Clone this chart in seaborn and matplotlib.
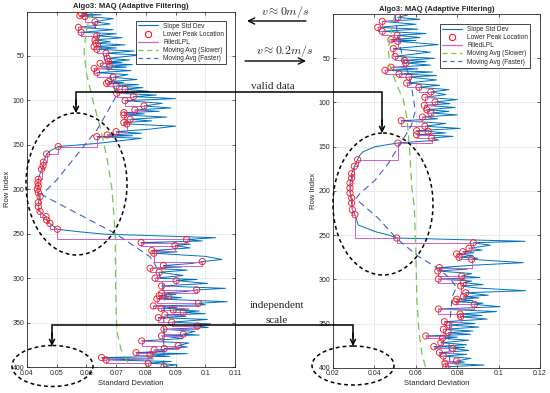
import matplotlib
matplotlib.use("Agg")
import matplotlib.pyplot as plt
import seaborn as sns
import pandas as pd
from matplotlib.patches import Ellipse
from matplotlib.lines import Line2D

# ---------------- data ----------------
# Left panel (v ~ 0 m/s)
L_peak_rows = [2.8, 4.7, 5.6, 11.5, 17.8, 23.4, 27.2, 32.0, 35.8, 39.6, 42.5, 47.0, 52.7, 56.4, 58.3, 61.3,
               64.0, 68.8, 74.0, 79.0, 80.8, 83.8, 87.5, 92.0, 95.8, 100.3, 106.3, 110.8, 113.8, 116.4, 121.3,
               125.0, 126.5, 135.2, 138.9, 140.8, 152.0, 160.3, 169.6, 173.5, 177.5, 188.8, 192.5, 196.3, 200.0,
               203.8, 208.3, 215.0, 219.6, 225.0, 230.8, 234.6, 238.3, 245.0, 256.5, 260.0, 263.4, 269.0, 272.0,
               281.4, 285.9, 288.9, 293.4, 300.1, 302.8, 308.8, 313.3, 317.0, 319.7, 320.8, 323.4, 328.3, 331.3,
               333.9, 335.8, 338.4, 341.4, 344.4, 349.6, 353.8, 357.5, 363.1, 365.0, 370.6, 375.9, 379.3, 380.8,
               383.8, 386.4, 389.4, 392.0, 395.7, 399.5]
L_peak_vals = [0.0584, 0.0578, 0.0595, 0.0629, 0.0573, 0.0582, 0.0635, 0.0629, 0.0632, 0.0626, 0.0635, 0.0666,
               0.0670, 0.0674, 0.0646, 0.0677, 0.0626, 0.0635, 0.0690, 0.0674, 0.0668, 0.0700, 0.0730, 0.0702,
               0.0758, 0.0730, 0.0794, 0.0763, 0.0726, 0.0726, 0.0747, 0.0726, 0.0736, 0.0700, 0.0670, 0.0635,
               0.0505, 0.0466, 0.0455, 0.0454, 0.0449, 0.0438, 0.0437, 0.0438, 0.0435, 0.0438, 0.0444, 0.0438,
               0.0438, 0.0444, 0.0464, 0.0466, 0.0477, 0.0502, 0.0937, 0.0784, 0.0898, 0.0820, 0.0827, 0.0990,
               0.0859, 0.0814, 0.0845, 0.0831, 0.0902, 0.0853, 0.0971, 0.0853, 0.0845, 0.0876, 0.0837, 0.0977,
               0.0825, 0.0851, 0.0892, 0.0926, 0.0864, 0.0842, 0.0887, 0.0974, 0.0861, 0.0926, 0.0853, 0.0786,
               0.0909, 0.0862, 0.0828, 0.0767, 0.0814, 0.0651, 0.0666, 0.0808, 0.0861]
L_spike_rows = [1.0, 3.7, 8.0, 14.0, 20.5, 25.0, 29.5, 34.0, 37.5, 41.0, 44.5, 49.0, 54.5, 57.3, 59.8, 62.6,
                66.5, 71.0, 76.5, 80.0, 82.3, 85.7, 89.8, 94.0, 98.0, 103.3, 108.5, 112.3, 115.1, 118.8, 123.1,
                129.0, 132.5, 137.0, 139.8, 142.7, 148.3, 150.5, 156.0, 248.0, 250.5, 254.5, 258.2, 261.8, 266.0,
                270.5, 275.5, 279.0, 283.5, 287.5, 291.0, 297.0, 301.5, 306.0, 311.5, 315.0, 318.3, 322.0, 326.5,
                330.0, 332.6, 334.8, 337.0, 340.0, 343.0, 346.5, 351.5, 355.5, 360.0, 364.0, 368.0, 373.0, 377.5,
                380.0, 382.3, 385.0, 388.0, 390.8, 393.8, 397.5]
L_spike_vals = [0.0600, 0.0650, 0.0690, 0.0680, 0.0690, 0.0700, 0.0720, 0.0680, 0.0730, 0.0700, 0.0760, 0.0780,
                0.0745, 0.0720, 0.0755, 0.0735, 0.0750, 0.0740, 0.0770, 0.0725, 0.0775, 0.0790, 0.0810, 0.0835,
                0.0900, 0.0855, 0.0885, 0.0845, 0.0795, 0.0870, 0.0820, 0.0900, 0.0810, 0.0785, 0.0755, 0.0785,
                0.0640, 0.0560, 0.0482, 0.0580, 0.0660, 0.1035, 0.0990, 0.0950, 0.0949, 0.0905, 0.1000, 0.1056,
                0.0955, 0.0920, 0.0939, 0.0925, 0.0973, 0.1007, 0.1068, 0.0935, 0.0900, 0.0920, 0.1074, 0.1000,
                0.0905, 0.0945, 0.0980, 0.1000, 0.0935, 0.1007, 0.1018, 0.1010, 0.0965, 0.0980, 0.0925, 0.0945,
                0.0940, 0.0905, 0.0865, 0.0940, 0.0880, 0.0825, 0.0885, 0.0905]
L_slow_rows = [0, 10, 25, 45, 70, 100, 135, 170, 200, 250, 300, 340, 360, 380, 400]
L_slow_vals = [0.0620, 0.0608, 0.0598, 0.0592, 0.0600, 0.0622, 0.0650, 0.0672, 0.0686, 0.0697, 0.0698, 0.0700,
               0.0703, 0.0716, 0.0748]
L_fast_rows = [0, 30, 60, 94, 114.5, 133.3, 152, 170.8, 189.5, 200.8, 206, 214, 249.5, 276, 290, 305, 320, 350, 400]
L_fast_vals = [0.0615, 0.0640, 0.0668, 0.0702, 0.0668, 0.0635, 0.0590, 0.0545, 0.0500, 0.0466, 0.0450, 0.0494,
               0.0696, 0.0814, 0.0840, 0.0855, 0.0865, 0.0860, 0.0860]

# Right panel (v ~ 0.2 m/s)
R_peak_rows = [3.7, 8.2, 15.0, 19.5, 24.0, 28.9, 30.8, 39.1, 47.8, 52.3, 55.3, 60.2, 63.6, 67.8, 71.2, 78.0,
               82.8, 88.1, 94.1, 99.4, 103.2, 108.1, 111.9, 116.4, 120.6, 126.9, 131.9, 132.6, 136.4, 140.2, 145.8,
               164.7, 172.2, 180.5, 185.4, 191.1, 196.7, 202.4, 208.0, 213.7, 221.2, 226.9, 253.3, 258.6, 264.9,
               268.8, 271.4, 275.1, 277.4, 286.8, 290.6, 296.3, 299.7, 303.8, 307.6, 315.2, 319.7, 322.6, 325.3,
               328.3, 333.6, 339.3, 342.3, 348.0, 351.7, 356.6, 360.4, 364.1, 366.7, 371.7, 376.2, 378.1, 383.0,
               386.8, 392.4, 395.0, 399.0]
R_peak_vals = [0.0513, 0.0438, 0.0416, 0.0438, 0.0510, 0.0480, 0.0513, 0.0491, 0.0500, 0.0545, 0.0551, 0.0480,
               0.0451, 0.0519, 0.0567, 0.0556, 0.0615, 0.0673, 0.0644, 0.0693, 0.0641, 0.0653, 0.0673, 0.0632,
               0.0530, 0.0644, 0.0604, 0.0660, 0.0604, 0.0677, 0.0513, 0.0319, 0.0303, 0.0290, 0.0290, 0.0282,
               0.0282, 0.0282, 0.0290, 0.0290, 0.0293, 0.0306, 0.0508, 0.0878, 0.0857, 0.0827, 0.0797, 0.0809,
               0.0870, 0.0714, 0.0706, 0.0822, 0.0709, 0.0830, 0.0817, 0.0841, 0.0830, 0.0797, 0.0792, 0.0883,
               0.0709, 0.0814, 0.0817, 0.0738, 0.0761, 0.0733, 0.0757, 0.0648, 0.0729, 0.0721, 0.0687, 0.0778,
               0.0714, 0.0733, 0.0797, 0.0741, 0.0745]
R_spike_rows = [1.0, 6.0, 11.5, 17.0, 22.0, 26.5, 29.8, 34.5, 43.0, 50.0, 53.8, 57.7, 62.0, 65.5, 69.5, 74.5,
                80.5, 85.5, 91.0, 96.7, 101.3, 105.6, 110.0, 114.0, 118.5, 123.7, 129.3, 134.5, 138.3, 142.5,
                150.0, 155.6, 160.0, 238.6, 246.0, 250.0, 257.0, 261.5, 267.0, 270.0, 273.0, 276.0, 281.2, 284.0,
                288.5, 293.5, 298.0, 302.0, 306.0, 310.0, 312.9, 318.0, 321.0, 324.0, 327.0, 331.0, 336.5, 341.0,
                345.0, 350.0, 354.0, 358.5, 362.3, 365.4, 369.0, 374.0, 377.0, 380.5, 385.0, 389.5, 393.7, 397.0]
R_spike_vals = [0.0560, 0.0620, 0.0600, 0.0610, 0.0650, 0.0620, 0.0600, 0.0709, 0.0670, 0.0690, 0.0650, 0.0670,
                0.0610, 0.0680, 0.0700, 0.0700, 0.0715, 0.0760, 0.0745, 0.0800, 0.0765, 0.0790, 0.0760, 0.0800,
                0.0705, 0.0745, 0.0814, 0.0745, 0.0780, 0.0710, 0.0403, 0.0346, 0.0328, 0.0322, 0.0403, 0.0470,
                0.1128, 0.0960, 0.0920, 0.0880, 0.0875, 0.0900, 0.1119, 0.0880, 0.0850, 0.0870, 0.0910, 0.0870,
                0.0925, 0.0905, 0.1131, 0.0950, 0.0905, 0.0875, 0.0925, 0.1007, 0.0990, 0.0920, 0.0945, 0.0885,
                0.0905, 0.0875, 0.0865, 0.0800, 0.0855, 0.0845, 0.0835, 0.0855, 0.0845, 0.0865, 0.0835, 0.0930]
R_slow_rows = [0, 15, 40, 59, 80, 97, 116, 135, 160, 195, 218, 267, 323, 361, 385, 400]
R_slow_vals = [0.0500, 0.0485, 0.0467, 0.0475, 0.0508, 0.0540, 0.0556, 0.0564, 0.0572, 0.0580, 0.0593, 0.0600,
               0.0605, 0.0616, 0.0630, 0.0648]
R_fast_rows = [0, 20, 53, 72, 102, 110, 125, 135, 150, 169, 188, 203, 209, 231, 254, 274, 288, 299, 309, 320,
               340, 370, 400]
R_fast_vals = [0.0500, 0.0510, 0.0540, 0.0572, 0.0593, 0.0597, 0.0580, 0.0556, 0.0516, 0.0467, 0.0403, 0.0330,
               0.0310, 0.0419, 0.0508, 0.0612, 0.0709, 0.0765, 0.0797, 0.0775, 0.0768, 0.0760, 0.0765]

y_ticks = [50, 100, 150, 200, 250, 300, 350, 400]
L_xticks = [0.04, 0.05, 0.06, 0.07, 0.08, 0.09, 0.10, 0.11]
L_xticklabels = ["0.04", "0.05", "0.06", "0.07", "0.08", "0.09", "0.1", "0.11"]
R_xticks = [0.02, 0.04, 0.06, 0.08, 0.10, 0.12]
R_xticklabels = ["0.02", "0.04", "0.06", "0.08", "0.1", "0.12"]
title = "Algo3: MAQ (Adaptive Filtering)"
series_names = ["Slope Std Dev", "Lower Peak Location", "FilledLPL", "Moving Avg (Slower)", "Moving Avg (Faster)"]

# ---------------- style ----------------
sns.set_theme(style="whitegrid")
plt.rcParams["font.family"] = ["Liberation Sans", "DejaVu Sans"]
plt.rcParams["mathtext.fontset"] = "cm"

C_BLUE = "#0072BD"
C_RED = "#FF1A1A"
C_MAG = "#CC66CC"
C_GREEN = "#70C84A"
C_DBLUE = "#4060C8"
DASH_G = (0, (6, 4))
DASH_B = (0, (6, 4))

fig = plt.figure(figsize=(5.5, 3.93), dpi=100)
fig.patch.set_facecolor("white")
axL = fig.add_axes([27 / 550, 1 - 367 / 393, 208 / 550, 355.5 / 393])
axR = fig.add_axes([333 / 550, 1 - 367.7 / 393, 207 / 550, 353.6 / 393])


def draw(ax, pr, pv, sr, sv, slr, slv, fr, fv, xlim, xt, xtl, anchor):
    merged = sorted(zip(pr + sr, pv + sv))
    df = pd.DataFrame(merged, columns=["row", "val"])
    sns.lineplot(data=df, x="val", y="row", sort=False, estimator=None, color=C_BLUE, lw=0.7, ax=ax,
                 zorder=2)
    sns.scatterplot(x=pv, y=pr, ax=ax, marker="o", s=20, facecolor="none", edgecolor=C_RED, linewidth=0.65,
                    zorder=4)
    fl = pd.DataFrame({"row": pr + [400], "val": pv + [pv[-1]]})
    sns.lineplot(data=fl, x="val", y="row", sort=False, estimator=None, drawstyle="steps-pre", color=C_MAG,
                 lw=0.75, ax=ax, zorder=3)
    sns.lineplot(x=slv, y=slr, sort=False, estimator=None, color=C_GREEN, lw=0.9, linestyle=DASH_G, ax=ax,
                 zorder=5)
    sns.lineplot(x=fv, y=fr, sort=False, estimator=None, color=C_DBLUE, lw=0.8, linestyle=DASH_B, ax=ax,
                 zorder=5)

    ax.set_xlim(*xlim)
    ax.set_ylim(400, 0)
    ax.set_xticks(xt)
    ax.set_xticklabels(xtl)
    ax.set_yticks(y_ticks)
    ax.set_yticklabels([str(t) for t in y_ticks])
    ax.set_facecolor("white")
    ax.grid(True, color="#e3e3e3", lw=0.5)
    ax.set_axisbelow(True)
    for s in ax.spines.values():
        s.set_visible(True)
        s.set_color("#262626")
        s.set_linewidth(0.6)
    ax.tick_params(axis="both", direction="in", length=2.5, width=0.5, labelsize=5, pad=2,
                   colors="#262626", top=True, right=True, bottom=True, left=True)
    ax.set_xlabel("Standard Deviation", fontsize=5.5, labelpad=2, color="#262626")
    ax.set_ylabel("Row Index", fontsize=5.5, labelpad=1, color="#262626")
    ax.set_title(title, fontsize=5.5, fontweight="bold", pad=2.5, color="#262626")

    handles = [
        Line2D([], [], color=C_BLUE, lw=0.8),
        Line2D([], [], ls="none", marker="o", mfc="none", mec=C_RED, ms=4.5, mew=0.8),
        Line2D([], [], color=C_MAG, lw=0.9),
        Line2D([], [], color=C_GREEN, lw=0.9, ls=(0, (4, 3))),
        Line2D([], [], color=C_DBLUE, lw=0.8, ls=(0, (4, 3))),
    ]
    leg = ax.legend(handles, series_names, loc="upper right", bbox_to_anchor=anchor, fontsize=4.7,
                    frameon=True, fancybox=False, edgecolor="#262626", framealpha=1, borderpad=0.3,
                    labelspacing=0.18, handlelength=3.0, handletextpad=0.8, borderaxespad=0)
    leg.get_frame().set_linewidth(0.6)
    for t in leg.get_texts():
        t.set_color("#262626")


draw(axL, L_peak_rows, L_peak_vals, L_spike_rows, L_spike_vals, L_slow_rows, L_slow_vals,
     L_fast_rows, L_fast_vals, (0.04, 0.11), L_xticks, L_xticklabels, (0.957, 0.974))
draw(axR, R_peak_rows, R_peak_vals, R_spike_rows, R_spike_vals, R_slow_rows, R_slow_vals,
     R_fast_rows, R_fast_vals, (0.02, 0.12), R_xticks, R_xticklabels, (0.952, 0.972))

# ---------------- annotation overlay (pixel coordinates) ----------------
ov = fig.add_axes([0, 0, 1, 1], zorder=10)
ov.set_xlim(0, 550)
ov.set_ylim(393, 0)
ov.axis("off")
ov.patch.set_alpha(0)

ell_kw = dict(fill=False, ec="black", lw=1.1, ls=(0, (2.5, 2)))
ov.add_patch(Ellipse((76.5, 184), 101, 142, **ell_kw))
ov.add_patch(Ellipse((383, 204), 100, 142, **ell_kw))
ov.add_patch(Ellipse((52.5, 366), 81, 41, **ell_kw))
ov.add_patch(Ellipse((353, 365.5), 82, 39, **ell_kw))

ov.plot([76, 76, 382, 382], [105, 92, 92, 125], color="black", lw=1.1, solid_joinstyle="miter")
ov.plot([52, 52, 353, 353], [338, 325, 325, 338], color="black", lw=1.1, solid_joinstyle="miter")
arr = dict(arrowstyle="->", lw=1.1, color="black", mutation_scale=9, shrinkA=0, shrinkB=0)
ov.annotate("", xy=(76, 113), xytext=(76, 100), arrowprops=arr)
ov.annotate("", xy=(382, 133), xytext=(382, 120), arrowprops=arr)
ov.annotate("", xy=(52, 346), xytext=(52, 333), arrowprops=arr)
ov.annotate("", xy=(353, 346), xytext=(353, 333), arrowprops=arr)
arr2 = dict(arrowstyle="->", lw=1.0, color="black", mutation_scale=11, shrinkA=0, shrinkB=0)
ov.annotate("", xy=(247, 21), xytext=(306, 21), arrowprops=arr2)
ov.annotate("", xy=(306, 61), xytext=(245, 61), arrowprops=arr2)

ov.text(285, 12, r"$v \approx 0m/s$", ha="center", va="center", fontsize=8.5)
ov.text(285, 51, r"$v \approx 0.2m/s$", ha="center", va="center", fontsize=8.5)
ov.text(273, 86.5, "valid data", ha="center", va="center", fontsize=8, family="Liberation Serif")
ov.text(276.5, 305.5, "independent", ha="center", va="center", fontsize=8, family="Liberation Serif")
ov.text(276.5, 320.5, "scale", ha="center", va="center", fontsize=8, family="Liberation Serif")

fig.savefig("out.png", dpi=100)
